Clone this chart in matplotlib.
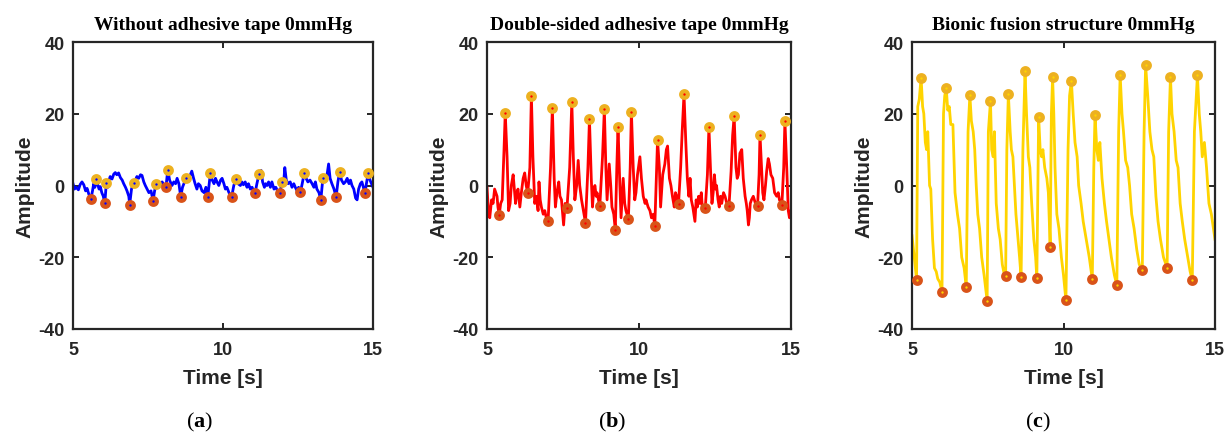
import numpy as np
import matplotlib.pyplot as plt

plt.rcParams['mathtext.fontset'] = 'custom'
plt.rcParams['mathtext.rm'] = 'Liberation Serif'
plt.rcParams['mathtext.bf'] = 'Liberation Serif:bold'
plt.rcParams['axes.unicode_minus'] = False

# ---- data ----
titles = ["Without adhesive tape 0mmHg",
          "Double-sided adhesive tape 0mmHg",
          "Bionic fusion structure 0mmHg"]
captions = ["a", "b", "c"]
x_ticks = [5, 10, 15]
y_ticks = [-40, -20, 0, 20, 40]

# (a) without tape
t_a = [5.00, 5.05, 5.10, 5.18, 5.24, 5.30, 5.36, 5.42, 5.47, 5.53, 5.60, 5.65, 5.69, 5.73, 5.77,
       5.82, 5.87, 5.91, 5.96, 6.01, 6.06, 6.11, 6.16, 6.20, 6.24, 6.30, 6.36, 6.41, 6.46, 6.52,
       6.58, 6.64, 6.69, 6.75, 6.80, 6.86, 6.89, 6.95, 7.02, 7.08, 7.13, 7.19, 7.25, 7.30, 7.36,
       7.41, 7.47, 7.53, 7.60, 7.67, 7.72, 7.78, 7.84, 7.91, 7.97, 8.03, 8.10, 8.16, 8.22, 8.30,
       8.36, 8.42, 8.47, 8.53, 8.59, 8.65, 8.72, 8.78, 8.84, 8.91, 8.96, 9.02, 9.07, 9.13, 9.18,
       9.24, 9.30, 9.37, 9.43, 9.49, 9.58, 9.64, 9.70, 9.75, 9.80, 9.86, 9.92, 9.97, 10.03, 10.08,
       10.13, 10.20, 10.29, 10.36, 10.44, 10.50, 10.58, 10.63, 10.68, 10.74, 10.80, 10.85, 10.91,
       10.97, 11.02, 11.07, 11.13, 11.20, 11.27, 11.32, 11.38, 11.42, 11.47, 11.52, 11.58, 11.63,
       11.70, 11.76, 11.82, 11.89, 11.97, 12.02, 12.06, 12.11, 12.17, 12.24, 12.30, 12.36, 12.41,
       12.47, 12.52, 12.58, 12.64, 12.71, 12.77, 12.83, 12.90, 12.97, 13.03, 13.08, 13.13, 13.20,
       13.26, 13.33, 13.40, 13.46, 13.52, 13.57, 13.63, 13.70, 13.77, 13.83, 13.89, 13.95, 14.02,
       14.08, 14.14, 14.20, 14.25, 14.30, 14.36, 14.42, 14.47, 14.52, 14.58, 14.63, 14.68, 14.73,
       14.78, 14.84, 14.90, 14.95, 15.00]
v_a = [0.5, -1.0, -0.5, -1.2, 0.3, 1.0, 0.2, -1.5, -0.8, -2.5, -3.7, -1.5, 0.5, -0.5, 1.9,
       0.3, -1.0, -0.3, -2.0, -3.0, -5.0, 0.6, -0.5, 1.5, 2.5, 1.8, 3.2, 3.6, 3.0, 3.5,
       2.2, 1.5, 0.5, -0.5, -1.5, -3.0, -5.3, -1.0, 0.7, 1.5, 2.5, 2.0, 3.0, 2.8, 1.0,
       0.0, -1.0, -2.0, -1.5, -4.2, -1.5, 0.5, -0.5, 0.0, 1.0, 0.2, -0.3, 4.4, 1.5, 0.0,
       1.0, 0.5, 2.0, 0.5, -3.1, -0.5, 1.0, 2.2, 1.5, 3.0, 4.0, 2.0, 0.5, -1.0, 0.5,
       0.0, -1.5, -2.0, -0.5, -3.3, 3.5, 1.5, 0.5, 2.0, 1.0, 0.0, 1.5, 2.0, 0.5, -1.0,
       -0.5, -2.0, -3.1, 0.0, 1.9, 0.5, 0.0, 1.0, 0.2, 1.0, -0.5, 0.5, -1.0,
       -0.5, -1.5, -2.0, 0.5, 3.1, 4.2, 1.0, -0.5, 0.5, 0.0, 1.0, -0.5, 1.0,
       -1.0, -0.5, -1.5, -2.2, 1.0, 0.5, 5.0, 1.5, 0.5, 1.0, -0.5, 0.5, -0.5,
       -1.5, -0.5, -1.9, 0.5, 3.5, 2.0, 1.0, 1.5, 0.5, -0.5, 1.0, -1.0, -2.0,
       -4.1, 2.1, 1.0, 2.5, 6.0, 2.0, 0.5, -1.0, -3.2, 1.0, 3.9, 1.5, 0.5,
       1.0, 2.0, 0.5, 1.5, 0.0, -1.0, -3.5, -4.0, -1.0, 0.5, 1.0, -0.5, -2.2,
       0.5, 3.5, 1.5, 0.5, -0.5]
pk_t_a = [5.77, 6.11, 7.02, 7.78, 8.16, 8.78, 9.58, 10.44, 11.20, 11.97, 12.71, 13.33, 13.89, 14.84]
pk_v_a = [1.9, 0.6, 0.7, 0.5, 4.4, 2.2, 3.5, 1.9, 3.1, 1.0, 3.5, 2.1, 3.9, 3.5]
vl_t_a = [5.60, 6.06, 6.89, 7.67, 8.10, 8.59, 9.49, 10.29, 11.07, 11.89, 12.58, 13.26, 13.77, 14.73]
vl_v_a = [-3.7, -5.0, -5.3, -4.2, -0.3, -3.1, -3.3, -3.1, -2.0, -2.2, -1.9, -4.1, -3.2, -2.2]

# (b) double-sided tape
t_b = [5.00, 5.04, 5.09, 5.15, 5.20, 5.25, 5.29, 5.33, 5.36, 5.40, 5.45, 5.50, 5.56, 5.60, 5.66,
       5.71, 5.76, 5.80, 5.86, 5.90, 5.94, 5.98, 6.02, 6.08, 6.13, 6.19, 6.24, 6.29, 6.34, 6.41,
       6.46, 6.51, 6.57, 6.62, 6.68, 6.71, 6.75, 6.79, 6.85, 6.90, 6.95, 7.01, 7.09, 7.15, 7.21,
       7.25, 7.30, 7.36, 7.40, 7.45, 7.52, 7.57, 7.63, 7.72, 7.79, 7.84, 7.89, 7.95, 8.00, 8.05,
       8.11, 8.17, 8.24, 8.32, 8.37, 8.43, 8.47, 8.51, 8.55, 8.59, 8.62, 8.71, 8.80, 8.86, 8.91,
       8.95, 9.02, 9.07, 9.11, 9.17, 9.22, 9.27, 9.31, 9.37, 9.41, 9.48, 9.53, 9.57, 9.65, 9.71,
       9.75, 9.81, 9.86, 9.90, 9.95, 10.03, 10.08, 10.14, 10.20, 10.23, 10.30, 10.36, 10.41, 10.47,
       10.52, 10.57, 10.61, 10.67, 10.71, 10.78, 10.85, 10.90, 10.94, 11.00, 11.05, 11.10, 11.16,
       11.20, 11.24, 11.30, 11.37, 11.42, 11.48, 11.54, 11.59, 11.64, 11.68, 11.72, 11.77, 11.84,
       11.88, 11.92, 11.96, 12.00, 12.05, 12.09, 12.18, 12.25, 12.30, 12.35, 12.40, 12.44, 12.48,
       12.52, 12.55, 12.60, 12.64, 12.68, 12.72, 12.78, 12.83, 12.89, 12.96, 13.03, 13.08, 13.13,
       13.19, 13.23, 13.27, 13.32, 13.38, 13.43, 13.49, 13.53, 13.56, 13.60, 13.63, 13.66, 13.70,
       13.76, 13.83, 13.90, 13.95, 13.98, 14.03, 14.07, 14.11, 14.16, 14.20, 14.25, 14.29, 14.34,
       14.40, 14.46, 14.53, 14.58, 14.62, 14.70, 14.76, 14.80, 14.86, 14.91, 14.95, 15.00]
v_b = [-0.5, -6, -9, -4, -5, -1, -2, -3, -6, -8.3, -5, -4, 10, 20.3, 8,
       -7, -5, 0, 3, -1, -5, -2, -1, -6, -2, 2, 3.5, 0, -2.1, 5,
       25.0, 8, -5, -3, -7, 1, -4, -6, -8, -7, -9, -9.9, 5, 21.7, 2,
       -6, -2, 1, -3, -4, -11, -5, -6.4, 5, 23.3, 8, -4, 0, 7, 0,
       -4, -7, -10.4, 5, 18.5, 2, -6, -1, 0, -3, -2, -5.8, 8, 21.3, 5,
       -4, 6, 0, -6, -8, -12.3, 5, 16.4, 0, -9, 2, -5, -7, -9.4, 5,
       20.6, 5, -4, -2, 3, 8, 2, -3, -5, -4, -6, -7, -9, -8,
       -11.3, 2, 12.7, 5, -6, 3, 6, 10, 11, 2, 0, -3, -6,
       -2, -3, -5.1, 5, 15, 25.5, 12, 2, -3, 2, -4, -6, -10,
       -4, -6, -3, -5, -2, -7, -6.3, 3, 16.2, 5, -5, -2, 3,
       -1, 0, -4, -6, -3, -5, -2, -3, -5, -5.7, 4, 14, 19.3,
       5, 2, 3, 9, 10, 2, -3, -5, -7, -11, -9, -5, -4,
       -3, -5, -5.7, 3, 14.2, 5, -2, -4, 0, 4, 7.5, 6, 3,
       2, -2, -3, -2, -4, -5.3, 5, 18.0, 5, -7, -9, -7]
pk_t_b = [5.60, 6.46, 7.15, 7.79, 8.37, 8.86, 9.31, 9.75, 10.61, 11.48, 12.30, 13.13, 13.98, 14.80]
pk_v_b = [20.3, 25.0, 21.7, 23.3, 18.5, 21.3, 16.4, 20.6, 12.7, 25.5, 16.2, 19.3, 14.2, 18.0]
vl_t_b = [5.40, 6.34, 7.01, 7.63, 8.24, 8.71, 9.22, 9.65, 10.52, 11.30, 12.18, 12.96, 13.90, 14.70]
vl_v_b = [-8.3, -2.1, -9.9, -6.4, -10.4, -5.8, -12.3, -9.4, -11.3, -5.1, -6.3, -5.7, -5.7, -5.3]

# (c) bionic fusion structure
t_c = [5.00, 5.05, 5.10, 5.15, 5.19, 5.24, 5.30, 5.35, 5.39, 5.44, 5.48, 5.52, 5.58, 5.62, 5.68,
       5.74, 5.80, 5.85, 5.92, 5.99, 6.04, 6.08, 6.13, 6.18, 6.23, 6.28, 6.35, 6.42, 6.50, 6.57,
       6.64, 6.72, 6.79, 6.85, 6.91, 6.96, 7.02, 7.07, 7.12, 7.17, 7.23, 7.30, 7.38, 7.48, 7.52,
       7.59, 7.63, 7.68, 7.72, 7.78, 7.85, 7.91, 7.98, 8.05, 8.09, 8.13, 8.18, 8.24, 8.28, 8.33,
       8.38, 8.43, 8.50, 8.55, 8.60, 8.66, 8.73, 8.78, 8.84, 8.89, 8.95, 9.02, 9.08, 9.12, 9.18,
       9.23, 9.28, 9.32, 9.38, 9.45, 9.50, 9.56, 9.60, 9.64, 9.68, 9.72, 9.78, 9.85, 9.93, 10.00,
       10.08, 10.15, 10.20, 10.26, 10.32, 10.38, 10.45, 10.50, 10.58, 10.65, 10.75, 10.85, 10.95,
       11.00, 11.04, 11.10, 11.15, 11.20, 11.27, 11.35, 11.42, 11.50, 11.58, 11.68, 11.76, 11.82,
       11.87, 11.93, 11.98, 12.05, 12.12, 12.18, 12.25, 12.33, 12.42, 12.50, 12.60, 12.66, 12.71,
       12.78, 12.85, 12.92, 12.98, 13.05, 13.12, 13.20, 13.30, 13.42, 13.47, 13.53, 13.58, 13.65,
       13.72, 13.78, 13.85, 13.92, 14.00, 14.10, 14.18, 14.25, 14.32, 14.42, 14.48, 14.53, 14.58,
       14.65, 14.72, 14.80, 14.88, 14.95, 15.00]
v_c = [-14, -18, -22, -26.3, 22, 24, 30.1, 22, 20, 12, 10, 15, 0, -1, -15,
       -23, -24, -26, -27, -29.8, 20, 25, 27.2, 21, 22, 17, 17, -2, -8, -12,
       -20, -23, -28.2, 15, 25.2, 18, 15, 10, 0, -8, -12, -20, -25, -32.2, 15,
       23.5, 10, 8, 15, -5, -12, -15, -22, -25, -25.2, 10, 25.5, 15, 10, 8,
       0, -8, -15, -20, -25.5, 10, 31.8, 20, 8, 5, -5, -15, -20, -25.8, 19.0,
       10, 8, 10, 5, 2, -2, -17.1, 20, 30.2, 20, 5, -8, -12, -20, -25,
       -32.0, 10, 25, 29.2, 20, 12, 8, 0, -5, -10, -15, -20, -26.2,
       5, 19.7, 10, 7, 12, 2, -5, -10, -15, -20, -25, -27.8, 15,
       30.9, 20, 15, 7, 5, 0, -8, -12, -18, -22, -23.6, 15, 33.6,
       25, 15, 10, 8, -3, -10, -15, -20, -23.0, 15, 30.2, 20, 15,
       7, 5, -5, -10, -15, -20, -24, -26.4, 15, 30.8, 20, 15, 8,
       12, 5, -5, -8, -12, -15]
pk_t_c = [5.30, 6.13, 6.91, 7.59, 8.18, 8.73, 9.18, 9.64, 10.26, 11.04, 11.87, 12.71, 13.53, 14.42]
pk_v_c = [30.1, 27.2, 25.2, 23.5, 25.5, 31.8, 19.0, 30.2, 29.2, 19.7, 30.9, 33.6, 30.2, 30.8]
vl_t_c = [5.15, 5.99, 6.79, 7.48, 8.09, 8.60, 9.12, 9.56, 10.08, 10.95, 11.76, 12.60, 13.42, 14.25]
vl_v_c = [-26.3, -29.8, -28.2, -32.2, -25.2, -25.5, -25.8, -17.1, -32.0, -26.2, -27.8, -23.6, -23.0, -26.4]

line_colors = ['#0000ff', '#ff0000', '#ffd400']
peak_color = '#edb120'
valley_color = '#d95319'

traces = [(t_a, v_a, pk_t_a, pk_v_a, vl_t_a, vl_v_a),
          (t_b, v_b, pk_t_b, pk_v_b, vl_t_b, vl_v_b),
          (t_c, v_c, pk_t_c, pk_v_c, vl_t_c, vl_v_c)]

# axes boxes in pixels (left, right), figure 1230x435
W, H = 1230, 435
boxes = [(73, 373), (487, 791), (912, 1215)]
top, bottom = 43, 330
caption_x = [200, 612, 1038]

fig = plt.figure(figsize=(W / 100, H / 100), dpi=100)

for i, (l, r) in enumerate(boxes):
    ax = fig.add_axes([l / W, 1 - bottom / H, (r - l) / W, (bottom - top) / H])
    t, v, pt, pv, vt, vv = traces[i]
    c = line_colors[i]
    ax.plot(t, v, color=c, lw=2, zorder=2)
    ax.plot(pt, pv, 'o', ms=4.8, mew=3.0, mec=peak_color, mfc=c, zorder=3)
    ax.plot(vt, vv, 'o', ms=4.8, mew=3.0, mec=valley_color, mfc=c, zorder=3)

    ax.set_xlim(5, 15)
    ax.set_ylim(-40, 40)
    ax.set_xticks(x_ticks)
    ax.set_yticks(y_ticks)
    ax.tick_params(direction='in', top=True, right=True, length=4, width=1.2,
                   labelsize=13, pad=6)
    ax.tick_params(axis='x', pad=9)
    for lab in ax.get_xticklabels() + ax.get_yticklabels():
        lab.set_fontfamily('Liberation Sans')
        lab.set_fontweight('bold')
        lab.set_color('#262626')
    for sp in ax.spines.values():
        sp.set_linewidth(1.6)
        sp.set_color('#262626')

    ax.set_xlabel('Time [s]', fontsize=15, fontweight='bold', family='Liberation Sans',
                  color='#262626', labelpad=7)
    ax.set_ylabel('Amplitude', fontsize=15, fontweight='bold', family='Liberation Sans',
                  color='#262626', labelpad=3)
    ax.set_title(titles[i], fontsize=14, fontweight='bold', family='Liberation Serif', pad=9)

    fig.text(caption_x[i] / W, 1 - 422 / H,
             r'$\mathrm{(}\mathbf{%s}\mathrm{)}$' % captions[i],
             fontsize=16, ha='center', va='center')

fig.savefig('out.png', dpi=100)
